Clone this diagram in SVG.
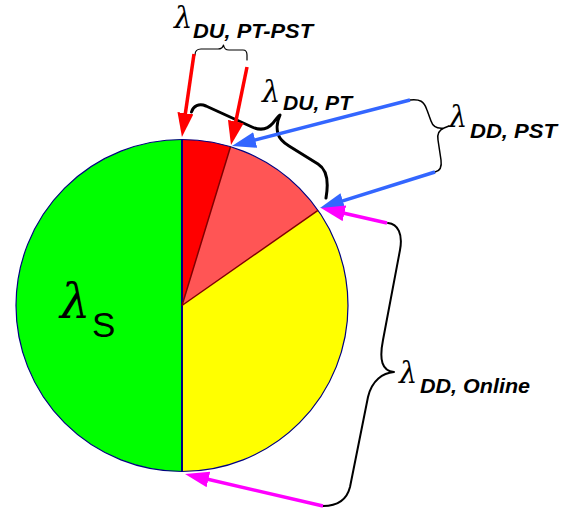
<svg xmlns="http://www.w3.org/2000/svg" width="564" height="508" viewBox="0 0 564 508">
<style>
.lam{font-family:"DejaVu Serif","Liberation Serif",serif;font-style:italic;font-size:29px;fill:#000}
.sub{font-family:"Liberation Sans",Arial,sans-serif;font-size:20px;font-weight:bold;font-style:italic;fill:#000}
.sep{stroke:#800000;stroke-width:1.5;fill:none}
.brace{fill:none;stroke:#000;stroke-linecap:round;stroke-linejoin:round}
.arr{fill:none;stroke-width:3.5}
</style>
<defs>
<marker id="ahR" markerUnits="userSpaceOnUse" markerWidth="24" markerHeight="16" refX="16" refY="8" orient="auto"><path d="M0,0 L24,8 L0,16 z" fill="#FF0000"/></marker>
<marker id="ahB" markerUnits="userSpaceOnUse" markerWidth="24" markerHeight="16" refX="16" refY="8" orient="auto"><path d="M0,0 L24,8 L0,16 z" fill="#3366FF"/></marker>
<marker id="ahM" markerUnits="userSpaceOnUse" markerWidth="24" markerHeight="16" refX="16" refY="8" orient="auto"><path d="M0,0 L24,8 L0,16 z" fill="#FF00FF"/></marker>
</defs>
<rect width="564" height="508" fill="#fff"/>
<g id="pie">
<g id="wedge-s"><path d="M182,305.5 L182,139.5 A166,166 0 0 0 182,471.5 Z" fill="#00FF00"/></g>
<g id="wedge-du-pt-pst"><path d="M182,305.5 L182,139.5 A166,166 0 0 1 230.5,146.8 Z" fill="#FF0000"/></g>
<g id="wedge-du-pt"><path d="M182,305.5 L230.5,146.8 A166,166 0 0 1 318,210.3 Z" fill="#FF5555"/></g>
<g id="wedge-dd-online"><path d="M182,305.5 L318,210.3 A166,166 0 0 1 182,471.5 Z" fill="#FFFF00"/></g>
<circle cx="182" cy="305.5" r="166" fill="none" stroke="#000080" stroke-width="1.2"/>
<line x1="182" y1="139.5" x2="182" y2="471.5" stroke="#000080" stroke-width="2"/>
<path class="sep" d="M182,305.5 L230.5,146.8 M182,305.5 L318,210.3"/>
</g>
<g id="label-s"><text class="lam" x="60" y="318" style="font-size:48px">λ</text><text x="92" y="336.5" font-family="Liberation Sans, Arial, sans-serif" font-size="35">S</text></g>
<g id="label-du-pt-pst"><text class="lam" x="174" y="28">λ</text><text class="sub" x="193" y="38" textLength="120" lengthAdjust="spacingAndGlyphs">DU, PT-PST</text></g>
<g id="label-du-pt"><text class="lam" x="262" y="102">λ</text><text class="sub" x="283" y="110" textLength="69" lengthAdjust="spacingAndGlyphs">DU, PT</text></g>
<g id="label-dd-pst"><text class="lam" x="449" y="127">λ</text><text class="sub" x="470" y="138.3" textLength="87" lengthAdjust="spacingAndGlyphs">DD, PST</text></g>
<g id="label-dd-online"><text class="lam" x="399" y="383">λ</text><text class="sub" x="420" y="393.3" textLength="110" lengthAdjust="spacingAndGlyphs">DD, Online</text></g>
<g id="braces">
<path class="brace" stroke-width="1.2" d="M195,55 C195,51 197,49 201,49 L218,49 C221,49 223,47 223.5,45 C224,48 226,50 229,50 L243,50 C246,50 247,52 247,55 L247,60"/>
<path class="brace" stroke-width="3" d="M191.5,112 C193,106 199,103 206,106 L252,127 C261,131 268,129 273,123 C276,119 278,116 280,115 C278,119 276,127 278,134 C280,140 284,143 289,146 L318,164 C326,169 329,181 326,198"/>
<path class="brace" stroke-width="1.5" d="M410,100 C420,99 424,101 427,110 L431,121 C433,127 437,129 444,128 L449,126 M444,128 C439,130 437,134 438,140 L441,160 C442,167 440,171 435,172"/>
<path class="brace" stroke-width="2" d="M388,223 C398,224 403,234 400,250 L383,340 C379,360 382,371 394,372 C383,373 372,380 368,397 L350,487 C347,499 338,506 323,506"/>
</g>
<g id="connectors">
<line class="arr" stroke="#FF0000" x1="194" y1="54" x2="183.1" y2="129.1" marker-end="url(#ahR)"/>
<line class="arr" stroke="#FF0000" x1="247" y1="67" x2="232.6" y2="137.2" marker-end="url(#ahR)"/>
<line class="arr" stroke="#3366FF" x1="410" y1="100" x2="239.7" y2="144" marker-end="url(#ahB)"/>
<line class="arr" stroke="#3366FF" x1="435" y1="172" x2="327.6" y2="205.6" marker-end="url(#ahB)"/>
<line class="arr" stroke="#FF00FF" x1="387" y1="223" x2="328.8" y2="209.8" marker-end="url(#ahM)"/>
<line class="arr" stroke="#FF00FF" x1="323" y1="506" x2="192.8" y2="475.8" marker-end="url(#ahM)"/>
</g>
</svg>
